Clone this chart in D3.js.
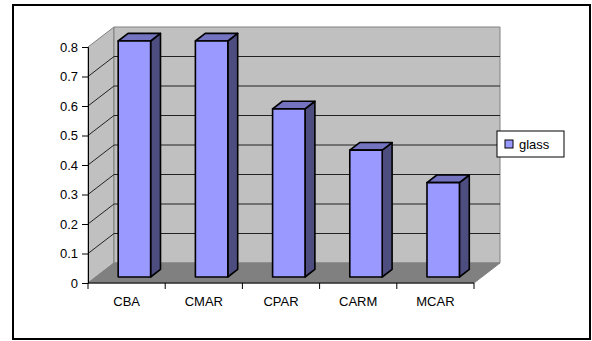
<!DOCTYPE html>
<html>
<head>
<meta charset="utf-8">
<script src="https://cdn.jsdelivr.net/npm/d3@7"></script>
<style>
  body { margin: 0; padding: 0; background: #fff; }
  svg text { font-family: "Liberation Sans", Arial, sans-serif; font-size: 13px; fill: #000; }
</style>
</head>
<body>
<div id="chart"></div>
<script>
// data
var categories = ["CBA", "CMAR", "CPAR", "CARM", "MCAR"];
var glass = [0.8, 0.8, 0.57, 0.43, 0.32];
var yTicks = [0, 0.1, 0.2, 0.3, 0.4, 0.5, 0.6, 0.7, 0.8];
var seriesName = "glass";

var W = 592, H = 341;
var pLeft = 88, pRight = 474, pBottom = 283, pTop = 47;
var depthX = 26, depthY = -20;   // 3d depth of the plot box
var f1 = 0.3, f2 = 0.68;         // bar front/back as fraction of depth

var svg = d3.select("#chart").append("svg")
    .attr("width", W).attr("height", H);

// outer frame
svg.append("rect")
    .attr("x", 13).attr("y", 5).attr("width", 577).attr("height", 334)
    .attr("fill", "#fff").attr("stroke", "#000").attr("stroke-width", 2);

var x = d3.scaleBand().domain(categories).range([pLeft, pRight]);
var y = d3.scaleLinear().domain([0, 0.8]).range([pBottom, pTop]);

function pts(a) { return a.map(function (p) { return p.join(","); }).join(" "); }

// side wall
svg.append("polygon")
    .attr("points", pts([[pLeft, y(0)], [pLeft, y(0.8)], [pLeft + depthX, y(0.8) + depthY], [pLeft + depthX, y(0) + depthY]]))
    .attr("fill", "#c0c0c0").attr("stroke", "#808080");
// back wall
svg.append("polygon")
    .attr("points", pts([[pLeft + depthX, y(0) + depthY], [pLeft + depthX, y(0.8) + depthY], [pRight + depthX, y(0.8) + depthY], [pRight + depthX, y(0) + depthY]]))
    .attr("fill", "#c0c0c0").attr("stroke", "#808080");

// gridlines
var grid = svg.append("g");
yTicks.filter(function (t) { return t > 0 && t < 0.8; }).forEach(function (t) {
  grid.append("polyline")
      .attr("points", pts([[pLeft, y(t)], [pLeft + depthX, y(t) + depthY], [pRight + depthX, y(t) + depthY]]))
      .attr("fill", "none").attr("stroke", "#222").attr("stroke-width", 1);
});

// floor
svg.append("polygon")
    .attr("points", pts([[pLeft, y(0)], [pRight, y(0)], [pRight + depthX, y(0) + depthY], [pLeft + depthX, y(0) + depthY]]))
    .attr("fill", "#808080").attr("stroke", "#808080");

// bars
var bw = x.bandwidth() * 0.42;
var bars = svg.append("g");
categories.forEach(function (c, i) {
  var x0 = x(c) + (x.bandwidth() - bw) / 2 + depthX * f1;
  var x1 = x0 + bw;
  var yb = y(0) + depthY * f1;
  var yt = y(glass[i]) + depthY * f1;
  var dx = depthX * (f2 - f1), dy = depthY * (f2 - f1);
  var g = bars.append("g").attr("stroke", "#000").attr("stroke-width", 1.6).attr("stroke-linejoin", "round");
  g.append("polygon").attr("points", pts([[x1, yb], [x1, yt], [x1 + dx, yt + dy], [x1 + dx, yb + dy]])).attr("fill", "#4d4d80");
  g.append("polygon").attr("points", pts([[x0, yt], [x1, yt], [x1 + dx, yt + dy], [x0 + dx, yt + dy]])).attr("fill", "#7373bf");
  g.append("rect").attr("x", x0).attr("y", yt).attr("width", bw).attr("height", yb - yt).attr("fill", "#9999ff");
});

// axes
var yAxis = d3.axisLeft(y).tickValues(yTicks).tickSize(6).tickPadding(4)
    .tickFormat(function (d) { return d === 0 ? "0" : d3.format(".1f")(d); });
var gy = svg.append("g").attr("transform", "translate(" + pLeft + ",0)").call(yAxis);
gy.select(".domain").attr("stroke", "#000");
gy.selectAll("text").style("font-family", "Liberation Sans, Arial, sans-serif").style("font-size", "13px");

var xAxis = d3.axisBottom(x).tickSize(0).tickPadding(14);
var gx = svg.append("g").attr("transform", "translate(0," + pBottom + ")").call(xAxis);
gx.select(".domain").attr("d", "M" + pLeft + ",0H" + pRight).attr("stroke", "#000");
gx.selectAll("text").style("font-family", "Liberation Sans, Arial, sans-serif").style("font-size", "13px");
// ticks between categories
gx.selectAll(".sep").data(categories.concat(["end"])).enter().append("line")
    .attr("x1", function (d, i) { return pLeft + i * x.bandwidth(); })
    .attr("x2", function (d, i) { return pLeft + i * x.bandwidth(); })
    .attr("y1", 0).attr("y2", 6).attr("stroke", "#000");

// legend
var lg = svg.append("g").attr("transform", "translate(497,131)");
lg.append("rect").attr("width", 67).attr("height", 26).attr("fill", "#fff").attr("stroke", "#000").attr("stroke-width", 1);
lg.append("rect").attr("x", 8).attr("y", 9).attr("width", 8).attr("height", 8)
    .attr("fill", "#9999ff").attr("stroke", "#000").attr("stroke-width", 1);
lg.append("text").attr("x", 22).attr("y", 18).text(seriesName);
</script>
</body>
</html>
